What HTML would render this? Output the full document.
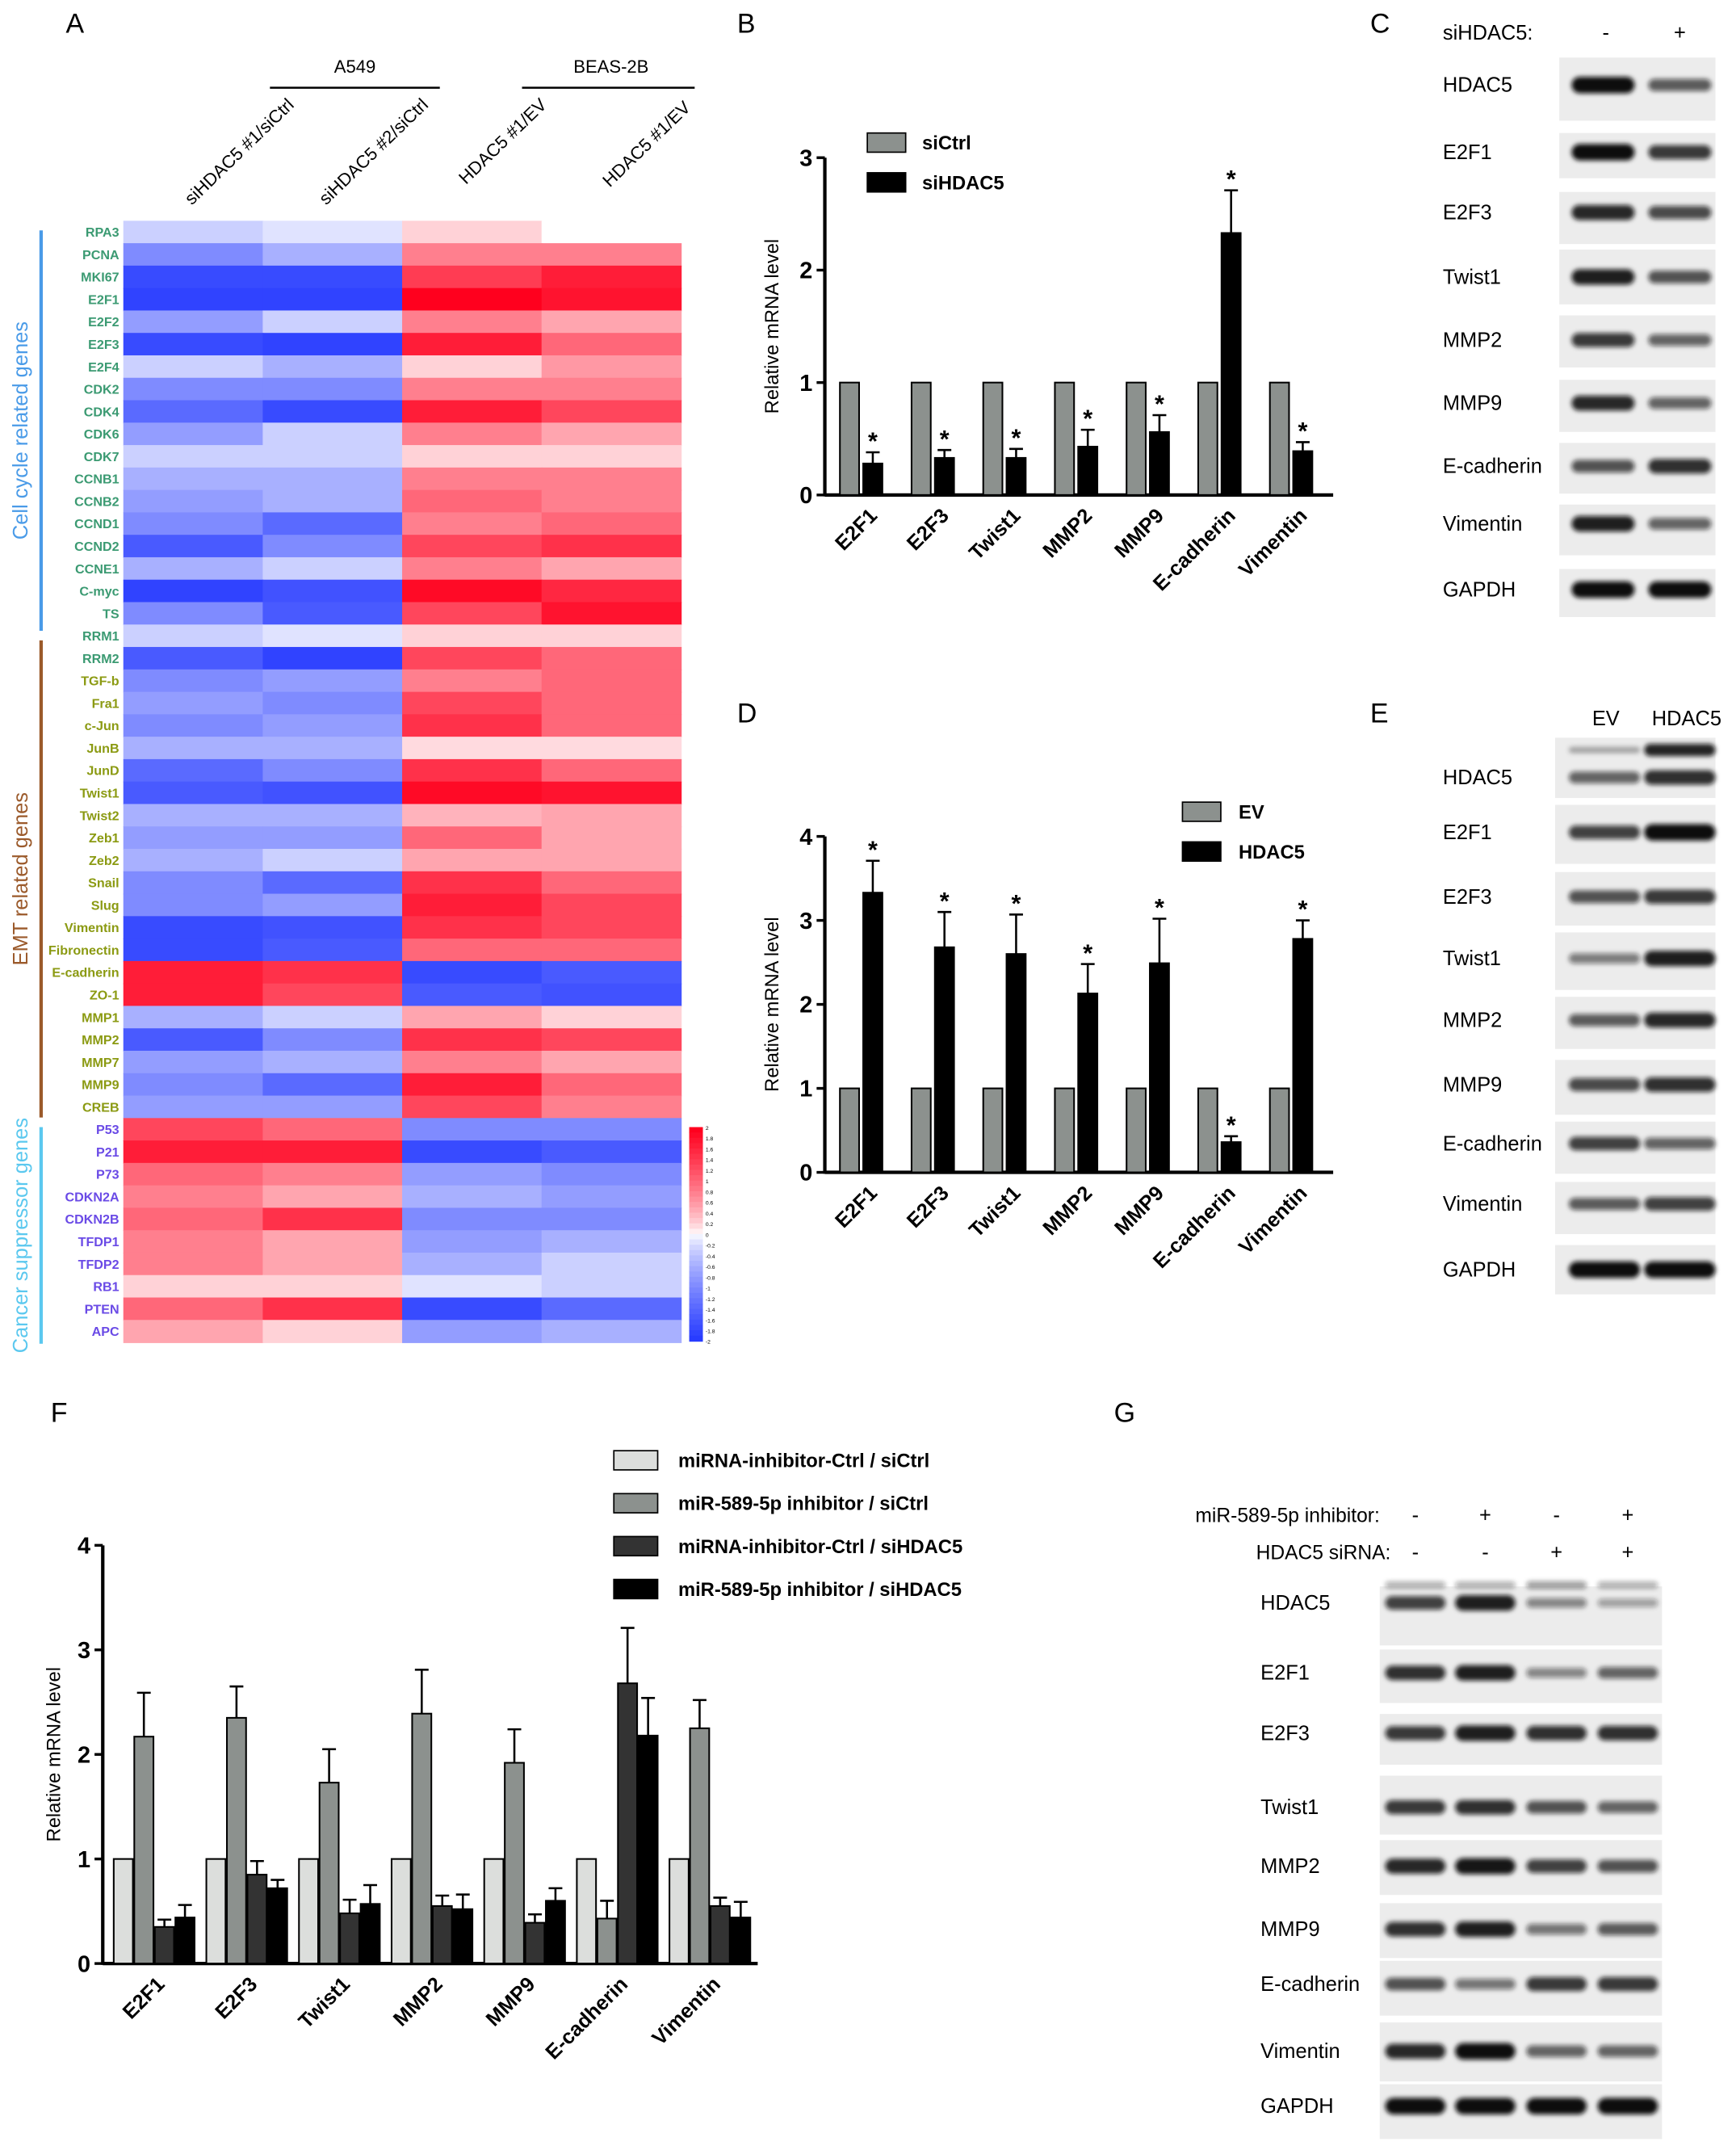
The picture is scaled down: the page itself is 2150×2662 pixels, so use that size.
<!DOCTYPE html>
<html><head><meta charset="utf-8">
<style>
html,body{margin:0;padding:0;background:#fff;}
svg{display:block;font-family:"Liberation Sans",Arial,sans-serif;}
</style></head>
<body>
<svg id="fig" width="2150" height="2662" viewBox="0 0 1267 1568" preserveAspectRatio="none" xmlns="http://www.w3.org/2000/svg">
<defs><filter id="blur" x="-20%" y="-100%" width="140%" height="300%"><feGaussianBlur stdDeviation="1.8"/></filter></defs>
<g id="gA"></g>
<g id="gB"></g>
<g id="gD"></g>
<g id="gF"></g>
<g id="gC"></g>
<g id="gE"></g>
<g id="gG"></g>
</svg>
<script>
// ---- Heatmap data ----
const hmGenes=["RPA3","PCNA","MKI67","E2F1","E2F2","E2F3","E2F4","CDK2","CDK4","CDK6","CDK7","CCNB1","CCNB2","CCND1","CCND2","CCNE1","C-myc","TS","RRM1","RRM2","TGF-b","Fra1","c-Jun","JunB","JunD","Twist1","Twist2","Zeb1","Zeb2","Snail","Slug","Vimentin","Fibronectin","E-cadherin","ZO-1","MMP1","MMP2","MMP7","MMP9","CREB","P53","P21","P73","CDKN2A","CDKN2B","TFDP1","TFDP2","RB1","PTEN","APC"];
const hmColumns=["siHDAC5 #1/siCtrl","siHDAC5 #2/siCtrl","HDAC5 #1/EV","HDAC5 #1/EV"];
const hmCol1=[-0.3,-1.0,-1.8,-1.9,-0.8,-1.8,-0.3,-1.0,-1.4,-0.8,-0.3,-0.6,-0.8,-1.0,-1.6,-0.6,-1.9,-1.0,-0.3,-1.6,-1.0,-0.8,-1.0,-0.6,-1.4,-1.6,-0.6,-0.8,-0.6,-1.0,-1.0,-1.8,-1.8,1.7,1.7,-0.6,-1.6,-0.8,-1.0,-0.8,1.3,1.7,1.0,0.8,1.0,0.8,0.8,0.2,1.0,0.5];
const hmCol2=[-0.15,-0.6,-1.8,-1.9,-0.3,-1.9,-0.6,-1.0,-1.8,-0.3,-0.3,-0.6,-0.6,-1.4,-1.0,-0.3,-1.7,-1.6,-0.15,-1.9,-0.8,-1.0,-0.8,-0.6,-1.0,-1.7,-0.6,-0.8,-0.3,-1.4,-0.8,-1.7,-1.6,1.5,1.3,-0.3,-1.0,-0.6,-1.4,-0.8,1.0,1.7,0.8,0.5,1.5,0.5,0.5,0.2,1.5,0.2];
const hmCol3=[0.2,0.8,1.4,2.0,0.8,1.7,0.2,0.8,1.7,0.8,0.2,0.8,1.0,0.8,1.3,0.8,1.9,1.3,0.2,1.3,0.8,1.3,1.5,0.15,1.5,1.9,0.4,1.0,0.5,1.5,1.7,1.5,1.0,-1.8,-1.6,0.5,1.5,0.8,1.7,1.3,-1.0,-1.8,-0.8,-0.6,-1.0,-0.8,-0.6,-0.15,-1.8,-0.8];
const hmCol4=[null,0.8,1.7,1.8,0.5,1.0,0.6,0.8,1.3,0.5,0.2,0.8,0.8,1.0,1.5,0.5,1.6,1.8,0.2,1.0,1.0,1.0,1.0,0.15,1.0,1.8,0.5,0.5,0.5,1.0,1.3,1.3,1.0,-1.6,-1.7,0.2,1.3,0.5,1.0,0.8,-1.0,-1.6,-1.0,-0.8,-1.0,-0.6,-0.3,-0.3,-1.4,-0.6];
const hmLegendTicks=["2","1.8","1.6","1.4","1.2","1","0.8","0.6","0.4","0.2","0","-0.2","-0.4","-0.6","-0.8","-1","-1.2","-1.4","-1.6","-1.8","-2"];
// ---- Panel B ----
const bCats=["E2F1","E2F3","Twist1","MMP2","MMP9","E-cadherin","Vimentin"];
const bCtrl=[1,1,1,1,1,1,1];
const bTreat=[0.28,0.33,0.33,0.43,0.56,2.33,0.39];
const bTreatErr=[0.1,0.07,0.08,0.15,0.15,0.38,0.08];
const bTicks=[0,1,2,3];
// ---- Panel D ----
const dCats=["E2F1","E2F3","Twist1","MMP2","MMP9","E-cadherin","Vimentin"];
const dCtrl=[1,1,1,1,1,1,1];
const dTreat=[3.33,2.68,2.6,2.13,2.49,0.36,2.78];
const dTreatErr=[0.38,0.42,0.47,0.35,0.53,0.07,0.22];
const dTicks=[0,1,2,3,4];
// ---- Panel F ----
const fCats=["E2F1","E2F3","Twist1","MMP2","MMP9","E-cadherin","Vimentin"];
const fS1=[1,1,1,1,1,1,1];
const fS2=[2.17,2.35,1.73,2.39,1.92,0.43,2.25];
const fS2Err=[0.42,0.3,0.32,0.42,0.32,0.17,0.27];
const fS3=[0.35,0.85,0.48,0.55,0.39,2.68,0.55];
const fS3Err=[0.07,0.13,0.13,0.1,0.08,0.53,0.08];
const fS4=[0.44,0.72,0.57,0.52,0.6,2.18,0.44];
const fS4Err=[0.12,0.08,0.18,0.14,0.12,0.36,0.15];
const fLegend=["miRNA-inhibitor-Ctrl / siCtrl","miR-589-5p inhibitor / siCtrl","miRNA-inhibitor-Ctrl / siHDAC5","miR-589-5p inhibitor / siHDAC5"];
const fTicks=[0,1,2,3,4];

const NS="http://www.w3.org/2000/svg";
function mk(parent,tag,attrs,text){const e=document.createElementNS(NS,tag);for(const k in attrs)e.setAttribute(k,attrs[k]);if(text!==undefined)e.textContent=text;parent.appendChild(e);return e;}
function hmColor(v){if(v===null)return "#ffffff";let t=Math.min(Math.abs(v)/2,1);t=Math.pow(t,0.75);
 if(v>=0){return `rgb(255,${Math.round(255-255*t)},${Math.round(255-225*t)})`;}
 return `rgb(${Math.round(255-215*t)},${Math.round(255-195*t)},255)`;}

// ===== Panel A =====
(function(){
 const g=document.getElementById('gA');
 let t=mk(g,'text',{x:48,y:24,'font-size':20},'A');
 
 const x0=90,cw=101.75,y0=161,rh=(979-161)/hmGenes.length;
 const cols=[hmCol1,hmCol2,hmCol3,hmCol4];
 const hdr=[[140,150],[238,150],[340,135],[445,137]];
 hmColumns.forEach((c,j)=>{let e=mk(g,'text',{x:hdr[j][0],y:hdr[j][1],'font-size':13,transform:`rotate(-44 ${hdr[j][0]} ${hdr[j][1]})`},c);
  });
 let l=mk(g,'line',{x1:197,y1:64,x2:321,y2:64,stroke:'#000','stroke-width':1.5});
 l=mk(g,'line',{x1:381,y1:64,x2:507,y2:64,stroke:'#000','stroke-width':1.5});
 t=mk(g,'text',{x:259,y:53,'font-size':13,'text-anchor':'middle'},'A549');
 t=mk(g,'text',{x:446,y:53,'font-size':13,'text-anchor':'middle'},'BEAS-2B');
 hmGenes.forEach((gn,i)=>{
  const col=i<20?'#3b9a72':(i<40?'#8b9a12':'#6a4ae6');
  const e=mk(g,'text',{x:87,y:y0+rh*i+rh/2+3.5,'font-size':9.5,'font-weight':'bold','text-anchor':'end',fill:col},gn);
  
  cols.forEach((arr,j)=>{const r=mk(g,'rect',{x:x0+cw*j,y:y0+rh*i,width:cw+0.5,height:rh+0.5,fill:hmColor(arr[i])});
   });
 });
 const groups=[["Cell cycle related genes",168,460,'#4a9be8'],["EMT related genes",467,815,'#9b5a2b'],["Cancer suppressor genes",822,980,'#5bc8ef']];
 groups.forEach(gr=>{let e=mk(g,'line',{x1:30,y1:gr[1],x2:30,y2:gr[2],stroke:gr[3],'stroke-width':2.5});
  
  const cy=(gr[1]+gr[2])/2;
  e=mk(g,'text',{x:20,y:cy,'font-size':15,fill:gr[3],'text-anchor':'middle',transform:`rotate(-90 20 ${cy})`},gr[0]);
  });
 const cb0=822,cb1=978,n=hmLegendTicks.length;
 for(let k=0;k<40;k++){const v=2-4*k/39;const r=mk(g,'rect',{x:503,y:cb0+(cb1-cb0)*k/40,width:10,height:(cb1-cb0)/40+0.5,fill:hmColor(v)});
  }
 hmLegendTicks.forEach((tk,k)=>{const e=mk(g,'text',{x:515,y:cb0+2+(cb1-cb0)*k/(n-1),'font-size':4},tk);
  });
})();

// ===== Bar chart helper =====
function barChart(g,opt){
 const ys=v=>opt.y0-(v/opt.ymax)*(opt.y0-opt.y1);
 let e=mk(g,'line',{x1:opt.ax,y1:opt.y1,x2:opt.ax,y2:opt.y0+1,stroke:'#000','stroke-width':2.5});
 e=mk(g,'line',{x1:opt.ax,y1:opt.y0,x2:opt.xend,y2:opt.y0,stroke:'#000','stroke-width':2.5});
 opt.ticks.forEach(tk=>{const y=ys(tk);
  e=mk(g,'line',{x1:opt.ax-6,y1:y,x2:opt.ax,y2:y,stroke:'#000','stroke-width':2});
  e=mk(g,'text',{x:opt.ax-9,y:y+6,'font-size':17,'font-weight':'bold','text-anchor':'end'},String(tk));});
 const cy=(opt.y0+opt.y1)/2;
 e=mk(g,'text',{x:opt.ylx,y:cy,'font-size':14,'text-anchor':'middle',transform:`rotate(-90 ${opt.ylx} ${cy})`},'Relative mRNA level');
 opt.cats.forEach((c,i)=>{
  const gx=opt.gx0+opt.gs*i;
  opt.series.forEach((s,k)=>{
   const v=s.vals[i],x=gx+opt.bo*k,y=ys(v);
   e=mk(g,'rect',{x:x,y:y,width:opt.bw,height:opt.y0-y,fill:s.fill,stroke:'#000','stroke-width':1.2});
   
   if(s.err){const ye=ys(v+s.err[i]);const cx=x+opt.bw/2;
    e=mk(g,'path',{d:`M${cx} ${y}V${ye}M${cx-5} ${ye}H${cx+5}`,stroke:'#000','stroke-width':1.5,fill:'none'});
    
    if(s.star){e=mk(g,'text',{x:cx,y:ye-2,'font-size':18,'font-weight':'bold','text-anchor':'middle'},'*');
     }}
  });
  const lx=gx+opt.lxo,ly=opt.y0+16;
  e=mk(g,'text',{x:lx,y:ly,'font-size':15,'font-weight':'bold','text-anchor':'end',transform:`rotate(-45 ${lx} ${ly})`},c);
  
 });
}

(function(){
 const g=document.getElementById('gB');
 let e=mk(g,'text',{x:538,y:24,'font-size':20},'B');
 barChart(g,{ax:602,y0:361,y1:115,ymax:3,xend:973,ticks:bTicks,ylx:568,cats:bCats,gx0:613,gs:52.3,bw:14,bo:17,lxo:28,
  series:[{vals:bCtrl,fill:'#8c918e'},{vals:bTreat,fill:'#000',err:bTreatErr,star:true}]});
 [['siCtrl','#8c918e',97],['siHDAC5','#000',126]].forEach(l=>{
  e=mk(g,'rect',{x:633,y:l[2],width:28,height:14,fill:l[1],stroke:'#000','stroke-width':1});
  e=mk(g,'text',{x:673,y:l[2]+12,'font-size':14,'font-weight':'bold'},l[0]);});
})();
(function(){
 const g=document.getElementById('gD');
 let e=mk(g,'text',{x:538,y:527,'font-size':20},'D');
 barChart(g,{ax:602,y0:855,y1:610,ymax:4,xend:973,ticks:dTicks,ylx:568,cats:dCats,gx0:613,gs:52.3,bw:14,bo:17,lxo:28,
  series:[{vals:dCtrl,fill:'#8c918e'},{vals:dTreat,fill:'#000',err:dTreatErr,star:true}]});
 [['EV','#8c918e',585],['HDAC5','#000',614]].forEach(l=>{
  e=mk(g,'rect',{x:863,y:l[2],width:28,height:14,fill:l[1],stroke:'#000','stroke-width':1});
  e=mk(g,'text',{x:904,y:l[2]+12,'font-size':14,'font-weight':'bold'},l[0]);});
})();
(function(){
 const g=document.getElementById('gF');
 let e=mk(g,'text',{x:37,y:1037,'font-size':20},'F');
 const fills=['#dcdedc','#8c918e','#333','#000'];
 barChart(g,{ax:75,y0:1432,y1:1127,ymax:4,xend:553,ticks:fTicks,ylx:44,cats:fCats,gx0:83,gs:67.6,bw:14,bo:15,lxo:38,
  series:[{vals:fS1,fill:fills[0]},{vals:fS2,fill:fills[1],err:fS2Err},{vals:fS3,fill:fills[2],err:fS3Err},{vals:fS4,fill:fills[3],err:fS4Err}]});
 fLegend.forEach((l,k)=>{const y=1058+31.3*k;
  e=mk(g,'rect',{x:448,y:y,width:32,height:14,fill:fills[k],stroke:'#000','stroke-width':1});
  e=mk(g,'text',{x:495,y:y+12,'font-size':14,'font-weight':'bold'},l);});
})();

// ===== Western blots =====
function blot(g,rows,box,lanes,bw,labelX){
 rows.forEach(r=>{
  let e=mk(g,'rect',{x:box[0],y:r[1],width:box[1]-box[0],height:r[3]-r[1],fill:'#ececec'});
  e=mk(g,'text',{x:labelX,y:r[2]+5,'font-size':15},r[0]);
  r[4].forEach((v,k)=>{const h=5+7*v;
   e=mk(g,'rect',{x:lanes[k]-bw/2,y:r[2]-h/2,width:bw,height:h,rx:h/2,fill:'#111','fill-opacity':0.25+0.75*v,filter:'url(#blur)'});
   });
  if(r[5])r[5].forEach((v,k)=>{const h=4+5*v;
   e=mk(g,'rect',{x:lanes[k]-bw/2,y:r[2]+r[6]-h/2,width:bw,height:h,rx:h/2,fill:'#111','fill-opacity':0.2+0.7*v,filter:'url(#blur)'});
   });
 });
}
(function(){
 const g=document.getElementById('gC');
 let e=mk(g,'text',{x:1000,y:24,'font-size':20},'C');
 e=mk(g,'text',{x:1053,y:29,'font-size':15},'siHDAC5:');
 e=mk(g,'text',{x:1172,y:29,'font-size':15,'text-anchor':'middle'},'-');
 e=mk(g,'text',{x:1226,y:29,'font-size':15,'text-anchor':'middle'},'+');
 blot(g,[["HDAC5",42,62,88,[1,0.55]],["E2F1",97,111,130,[1,0.75]],["E2F3",140,155,178,[0.85,0.65]],["Twist1",182,202,222,[0.9,0.6]],["MMP2",230,248,268,[0.75,0.5]],["MMP9",277,294,315,[0.85,0.5]],["E-cadherin",323,340,360,[0.6,0.8]],["Vimentin",368,382,405,[0.9,0.5]],["GAPDH",415,430,450,[1,1]]],
  [1138,1252],[1170,1226],46,1053);
})();
(function(){
 const g=document.getElementById('gE');
 let e=mk(g,'text',{x:1000,y:527,'font-size':20},'E');
 e=mk(g,'text',{x:1172,y:529,'font-size':15,'text-anchor':'middle'},'EV');
 e=mk(g,'text',{x:1231,y:529,'font-size':15,'text-anchor':'middle'},'HDAC5');
 blot(g,[["HDAC5",538,567,582,[0.5,0.8],[0.15,1],-20],["E2F1",587,607,630,[0.7,1]],["E2F3",636,654,675,[0.6,0.75]],["Twist1",680,699,722,[0.35,0.9]],["MMP2",727,744,765,[0.55,0.85]],["MMP9",773,791,813,[0.65,0.8]],["E-cadherin",818,834,856,[0.7,0.5]],["Vimentin",862,878,900,[0.55,0.7]],["GAPDH",908,926,944,[1,1]]],
  [1135,1252],[1171,1226],52,1053);
})();
(function(){
 const g=document.getElementById('gG');
 let e=mk(g,'text',{x:813,y:1037,'font-size':20},'G');
 e=mk(g,'text',{x:1007,y:1110,'font-size':14.5,'text-anchor':'end'},'miR-589-5p inhibitor:');
 e=mk(g,'text',{x:1015,y:1137,'font-size':14.5,'text-anchor':'end'},'HDAC5 siRNA:');
 const lanes=[1033,1084,1136,1188];
 [['-','+','-','+'],['-','-','+','+']].forEach((row,ri)=>row.forEach((s,k)=>{
  e=mk(g,'text',{x:lanes[k],y:1110+27*ri,'font-size':15,'text-anchor':'middle'},s);}));
 blot(g,[["HDAC5",1157,1169,1200,[0.7,0.9,0.3,0.15],[0.2,0.2,0.3,0.2],-13],["E2F1",1203,1220,1242,[0.8,0.9,0.3,0.5]],["E2F3",1250,1264,1287,[0.75,0.9,0.8,0.8]],["Twist1",1295,1318,1338,[0.75,0.8,0.6,0.5]],["MMP2",1342,1361,1382,[0.85,0.95,0.7,0.6]],["MMP9",1388,1407,1428,[0.8,0.9,0.4,0.55]],["E-cadherin",1430,1447,1470,[0.6,0.4,0.75,0.75]],["Vimentin",1475,1496,1518,[0.85,1,0.5,0.5]],["GAPDH",1520,1536,1560,[1,1,1,1]]],
  [1007,1213],lanes,44,920);
})();
</script>
</body></html>
